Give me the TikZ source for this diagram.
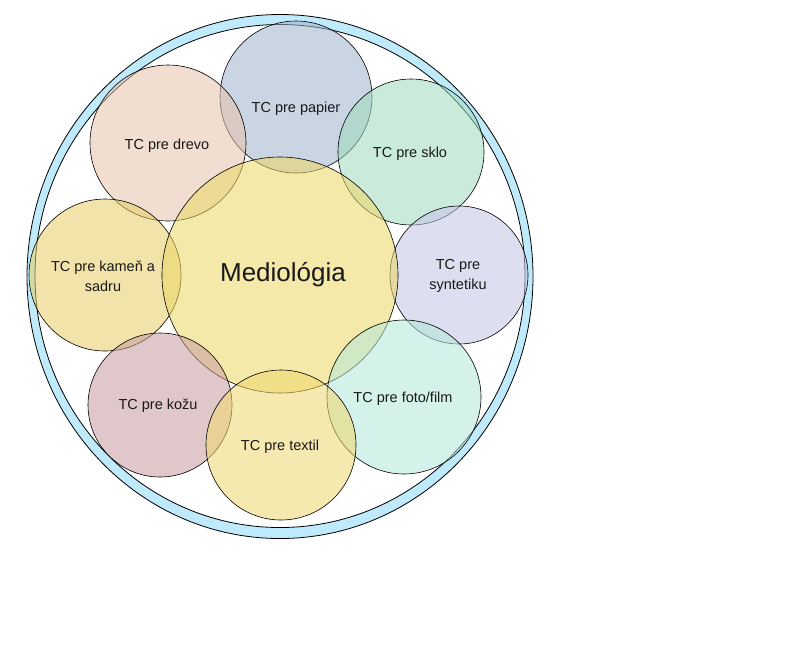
\documentclass[tikz,border=0pt]{standalone}
\usepackage{fontspec}
\setmainfont{Liberation Sans}
\begin{document}
\begin{tikzpicture}[x=1pt,y=-1pt,
  sat/.style={circle,draw=black,line width=0.6pt,fill opacity=0.55,text opacity=1,inner sep=0pt,align=center},
  lbl/.style={font=\fontsize{14.5}{20}\selectfont,align=center,text=black!90}]
\useasboundingbox (0,0) rectangle (789,662);
\fill[white] (0,0) rectangle (789,662);
% outer ring
\fill[cyan!25,even odd rule] (280,276.5) ellipse [x radius=253,y radius=262] (280,276) ellipse [x radius=245,y radius=251.5];
\draw[line width=0.8pt] (280,276.5) ellipse [x radius=253,y radius=262];
\draw[line width=0.8pt] (280,276) ellipse [x radius=245,y radius=251.5];
\node[circle,minimum size=248pt,inner sep=0pt] (ring) at (280,276) {};
% satellites and centre
\node[sat,minimum size=152pt,fill={rgb,255:red,160;green,180;blue,205}] (pap) at (296,97) {};
\node[sat,minimum size=156pt,fill={rgb,255:red,230;green,195;blue,170}] (dre) at (168,143) {};
\node[sat,minimum size=146pt,fill={rgb,255:red,160;green,220;blue,190}] (skl) at (411,152) {};
\node[sat,minimum size=138pt,fill={rgb,255:red,195;green,195;blue,230}] (syn) at (459,275) {};
\node[sat,minimum size=152pt,fill={rgb,255:red,230;green,205;blue,100}] (kam) at (105,275) {};
\node[sat,minimum size=236pt,fill={rgb,255:red,235;green,215;blue,100}] (med) at (280,275) {};
\node[sat,minimum size=144pt,fill={rgb,255:red,200;green,155;blue,160}] (koz) at (160,405) {};
\node[sat,minimum size=154pt,fill={rgb,255:red,180;green,232;blue,218}] (fot) at (404,397) {};
\node[sat,minimum size=150pt,fill={rgb,255:red,240;green,215;blue,110}] (tex) at (281,445) {};
% labels
\node[lbl] (tpap) at (296,109) {TC pre papier};
\node[lbl] (tdre) at (167,146) {TC pre drevo};
\node[lbl] (tskl) at (410,154) {TC pre sklo};
\node[lbl] (tsyn) at (458,276) {TC pre\\syntetiku};
\node[lbl] (tkam) at (103,276) {TC pre kameň a\\sadru};
\node[lbl,font=\fontsize{26}{30}\selectfont] (tmed) at (283,275) {Mediológia};
\node[lbl] (tkoz) at (158,406) {TC pre kožu};
\node[lbl] (tfot) at (403,399) {TC pre foto/film};
\node[lbl] (ttex) at (280,447) {TC pre textil};
\end{tikzpicture}
\end{document}
